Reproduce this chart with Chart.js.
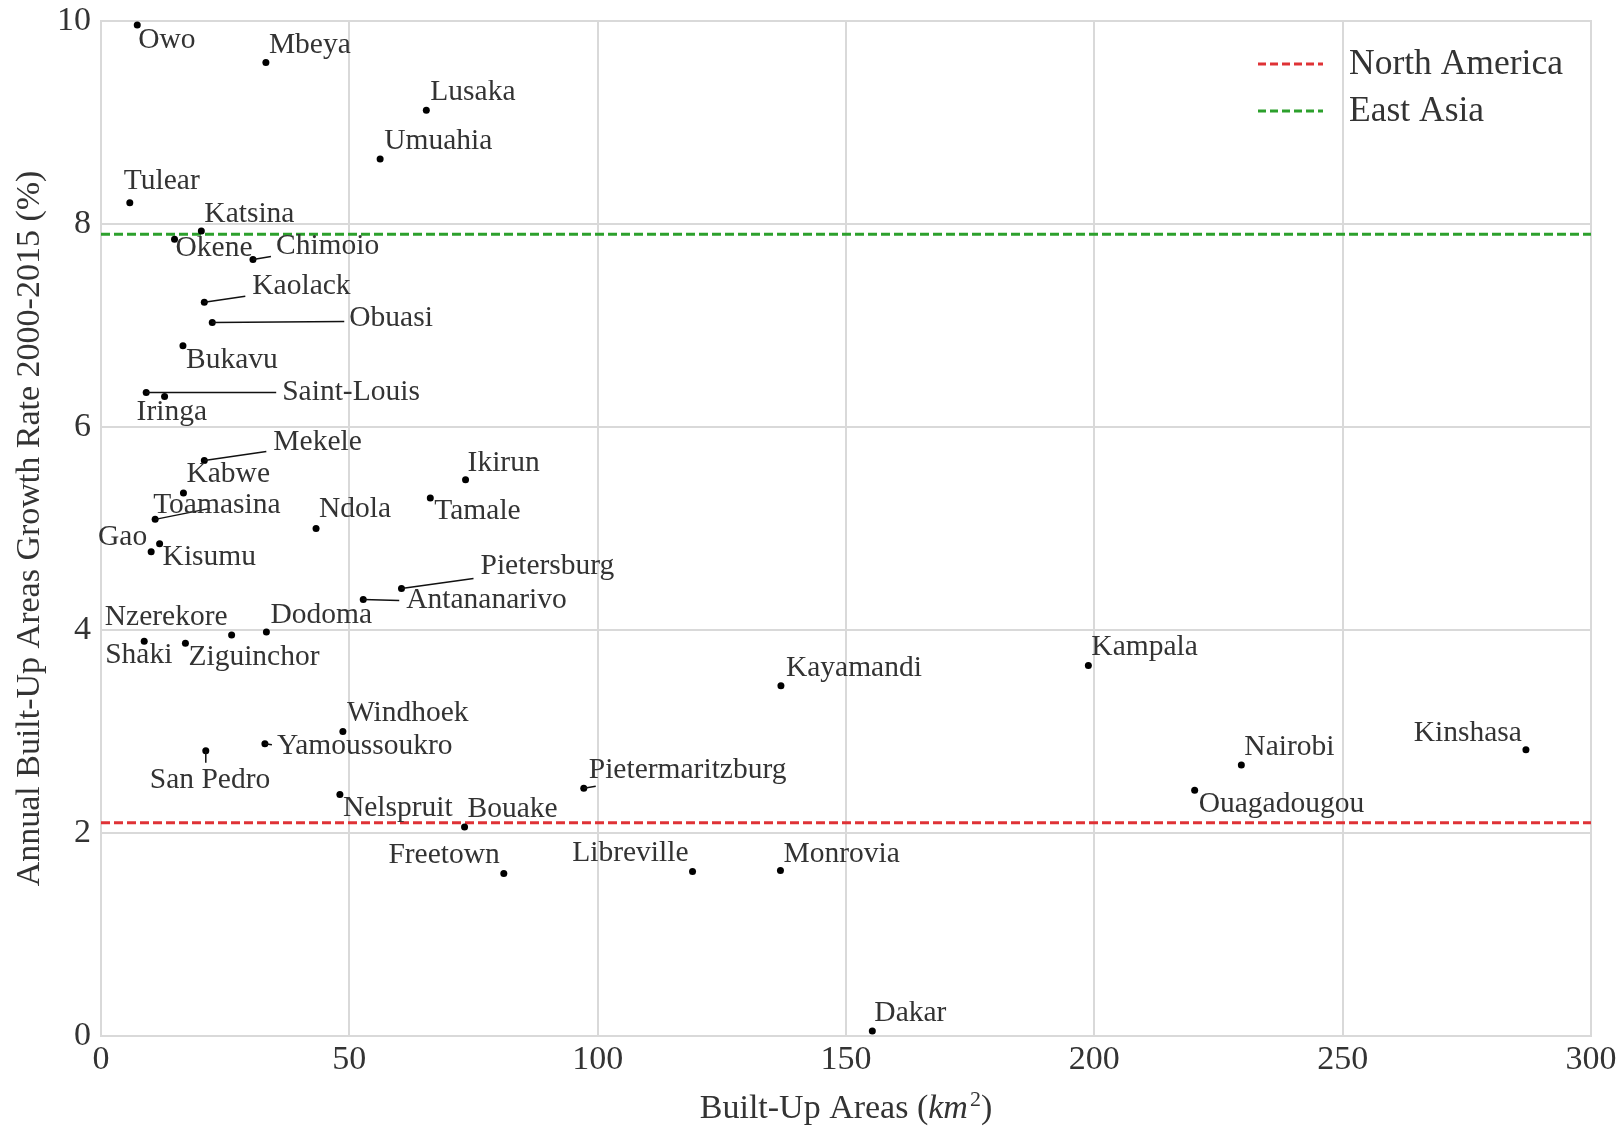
<!DOCTYPE html>
<html>
<head>
<meta charset="utf-8">
<title>Built-up areas vs growth rate</title>
<script src="https://cdn.jsdelivr.net/npm/chart.js@4.4.1/dist/chart.umd.min.js"></script>
<style>
  html, body { margin: 0; padding: 0; background: #fff; }
  #wrap { width: 1623px; height: 1126px; }
</style>
</head>
<body>
<div id="wrap"><canvas id="scatterChart"></canvas></div>
<script>
// Dados
const cities = ['Owo', 'Mbeya', 'Lusaka', 'Umuahia', 'Tulear', 'Katsina', 'Okene', 'Chimoio',
  'Kaolack', 'Obuasi', 'Bukavu', 'Saint-Louis', 'Iringa', 'Mekele', 'Kabwe', 'Toamasina',
  'Gao', 'Kisumu', 'Ndola', 'Ikirun', 'Tamale', 'Pietersburg', 'Antananarivo', 'Dodoma',
  'Nzerekore', 'Shaki', 'Ziguinchor', 'Windhoek', 'Yamoussoukro', 'San Pedro', 'Nelspruit',
  'Bouake', 'Freetown', 'Pietermaritzburg', 'Libreville', 'Monrovia', 'Kayamandi', 'Kampala',
  'Nairobi', 'Ouagadougou', 'Kinshasa', 'Dakar'];

const builtUpArea = [7.3, 33.2, 65.5, 56.2, 5.8, 20.2, 14.8, 30.6,
  20.8, 22.4, 16.5, 9.1, 12.8, 20.8, 16.6, 10.9,
  10.1, 11.8, 43.3, 73.4, 66.3, 60.5, 52.8, 33.3,
  26.3, 8.7, 17.0, 48.7, 33.0, 21.1, 48.1,
  73.2, 81.1, 97.2, 119.1, 136.8, 136.9, 198.8,
  229.6, 220.2, 286.9, 155.3];

const growthRate = [9.96, 9.59, 9.12, 8.64, 8.21, 7.93, 7.85, 7.65,
  7.23, 7.03, 6.80, 6.34, 6.30, 5.67, 5.35, 5.09,
  4.77, 4.85, 5.00, 5.48, 5.30, 4.41, 4.30, 3.98,
  3.95, 3.89, 3.87, 3.00, 2.88, 2.81, 2.38,
  2.06, 1.60, 2.44, 1.62, 1.63, 3.45, 3.65,
  2.67, 2.42, 2.82, 0.05];

const referenceNames = ['North America', 'East Asia'];
const referenceRates = [2.1, 7.9];
const referenceColors = ['#df3236', '#2ca02c'];

const xRange = [0, 300];
const yRange = [0, 10];

// Posição dos rótulos (px a partir do ponto): [dx, dy, alinhamento, fimLinhaX, fimLinhaY]
const labelPlacement = {
  'Owo': [1, 15, 'left'],
  'Mbeya': [3, -17, 'left'],
  'Lusaka': [4, -18, 'left'],
  'Umuahia': [4, -18, 'left'],
  'Tulear': [-6, -21, 'left'],
  'Katsina': [3, -17, 'left'],
  'Okene': [1, 9, 'left'],
  'Chimoio': [23, -13, 'left', 18, -3],
  'Kaolack': [48, -16, 'left', 41, -6],
  'Obuasi': [137, -4, 'left', 132, -1],
  'Bukavu': [3, 14, 'left'],
  'Saint-Louis': [136, 0, 'left', 130, 0],
  'Iringa': [-28, 16, 'left'],
  'Mekele': [69, -18, 'left', 62, -9],
  'Kabwe': [3, -19, 'left'],
  'Toamasina': [-2, -14, 'left', 55, -11],
  'Gao': [-4, -15, 'right'],
  'Kisumu': [3, 14, 'left'],
  'Ndola': [3, -19, 'left'],
  'Ikirun': [2, -17, 'left'],
  'Tamale': [4, 13, 'left'],
  'Pietersburg': [79, -22, 'left', 72, -10],
  'Antananarivo': [43, 1, 'left', 36, 1],
  'Dodoma': [4, -17, 'left'],
  'Nzerekore': [-4, -18, 'right'],
  'Shaki': [-39, 14, 'left'],
  'Ziguinchor': [3, 14, 'left'],
  'Windhoek': [4, -18, 'left'],
  'Yamoussoukro': [12, 3, 'left', 7, 1],
  'San Pedro': [-56, 29, 'left', 0, 12],
  'Nelspruit': [3, 14, 'left'],
  'Bouake': [3, -18, 'left'],
  'Freetown': [-4, -18, 'right'],
  'Pietermaritzburg': [5, -18, 'left', 12, -2],
  'Libreville': [-4, -18, 'right'],
  'Monrovia': [3, -16, 'left'],
  'Kayamandi': [5, -18, 'left'],
  'Kampala': [3, -18, 'left'],
  'Nairobi': [3, -18, 'left'],
  'Ouagadougou': [4, 14, 'left'],
  'Kinshasa': [-4, -17, 'right'],
  'Dakar': [2, -18, 'left']
};

const serif = "'Liberation Serif', 'DejaVu Serif', serif";
const textColor = '#333333';
const gridColor = '#d9d9d9';

// Rótulos das cidades com linhas de ligação
const cityLabels = {
  id: 'cityLabels',
  afterDatasetsDraw(chart) {
    const ctx = chart.ctx;
    const meta = chart.getDatasetMeta(0);
    ctx.save();
    ctx.font = '29.5px ' + serif;
    ctx.fillStyle = textColor;
    ctx.strokeStyle = '#111';
    ctx.lineWidth = 1.5;
    ctx.textBaseline = 'middle';
    meta.data.forEach((pt, i) => {
      const p = labelPlacement[cities[i]] || [3, -16, 'left'];
      if (p.length > 3) {
        ctx.beginPath();
        ctx.moveTo(pt.x, pt.y);
        ctx.lineTo(pt.x + p[3], pt.y + p[4]);
        ctx.stroke();
      }
      ctx.textAlign = p[2];
      ctx.fillText(cities[i], pt.x + p[0], pt.y + p[1]);
    });
    ctx.restore();
  }
};

// Moldura, legenda e título do eixo x (com km em itálico e expoente)
const frameAndLegend = {
  id: 'frameAndLegend',
  beforeDatasetsDraw(chart) {
    const {ctx, chartArea: a} = chart;
    ctx.save();
    ctx.strokeStyle = gridColor;
    ctx.lineWidth = 2;
    ctx.strokeRect(a.left, a.top, a.right - a.left, a.bottom - a.top);
    ctx.restore();
  },
  afterDraw(chart) {
    const {ctx, chartArea: a} = chart;
    ctx.save();
    ctx.font = '35.5px ' + serif;
    ctx.textBaseline = 'middle';
    ctx.textAlign = 'left';
    referenceNames.forEach((name, i) => {
      const y = a.top + 43 + i * 47;
      const x0 = a.right - 333;
      ctx.strokeStyle = referenceColors[i];
      ctx.lineWidth = 3;
      ctx.setLineDash([8, 4]);
      ctx.beginPath();
      ctx.moveTo(x0, y);
      ctx.lineTo(x0 + 65, y);
      ctx.stroke();
      ctx.setLineDash([]);
      ctx.fillStyle = textColor;
      ctx.fillText(name, x0 + 91, y + 1);
    });

    // título do eixo x
    const parts = [
      ['Built-Up Areas (', '34px ' + serif, 0],
      ['km', 'italic 34px ' + serif, 0],
      ['2', '22px ' + serif, -12],
      [')', '34px ' + serif, 0]
    ];
    let total = 0;
    parts.forEach(p => { ctx.font = p[1]; total += ctx.measureText(p[0]).width + (p[0] === '2' ? 2 : 0); });
    let x = (a.left + a.right) / 2 - total / 2;
    const y = chart.height - 18;
    ctx.fillStyle = textColor;
    ctx.textBaseline = 'alphabetic';
    parts.forEach(p => {
      ctx.font = p[1];
      if (p[0] === '2') x += 2;
      ctx.fillText(p[0], x, y + 10 + p[2]);
      x += ctx.measureText(p[0]).width;
    });
    ctx.restore();
  }
};

const points = builtUpArea.map((x, i) => ({x: x, y: growthRate[i]}));

const referenceSets = referenceNames.map((name, i) => ({
  type: 'line',
  label: name,
  data: [{x: xRange[0], y: referenceRates[i]}, {x: xRange[1], y: referenceRates[i]}],
  borderColor: referenceColors[i],
  borderWidth: 3,
  borderDash: [9, 4],
  pointRadius: 0,
  fill: false
}));

const scatterChart = new Chart(document.getElementById('scatterChart'), {
  type: 'scatter',
  data: {
    datasets: [{
      label: 'Cities',
      data: points,
      backgroundColor: '#000',
      borderWidth: 0,
      pointRadius: 3.5
    }, ...referenceSets]
  },
  options: {
    responsive: true,
    maintainAspectRatio: false,
    animation: false,
    layout: { padding: { top: 21, right: 32, left: 0, bottom: 0 } },
    plugins: {
      legend: { display: false },
      tooltip: { enabled: false }
    },
    scales: {
      x: {
        type: 'linear',
        min: xRange[0],
        max: xRange[1],
        ticks: {
          stepSize: 50,
          padding: 4,
          color: textColor,
          font: { family: serif, size: 34 }
        },
        grid: { color: gridColor, lineWidth: 2, drawTicks: false },
        border: { color: gridColor, width: 2 },
        title: { display: false },
        afterFit(scale) {
          scale.height = 90;
          scale.paddingLeft = 0;
          scale.paddingRight = 0;
        }
      },
      y: {
        type: 'linear',
        min: yRange[0],
        max: yRange[1],
        ticks: {
          stepSize: 2,
          padding: 10,
          color: textColor,
          font: { family: serif, size: 34 }
        },
        grid: { color: gridColor, lineWidth: 2, drawTicks: false },
        border: { color: gridColor, width: 2 },
        title: {
          display: true,
          text: 'Annual Built-Up Areas Growth Rate 2000-2015 (%)',
          color: textColor,
          font: { family: serif, size: 34 },
          padding: { top: 10, bottom: 0 }
        },
        afterFit(scale) {
          scale.width = 101;
          scale.paddingTop = 0;
          scale.paddingBottom = 0;
        }
      }
    }
  },
  plugins: [frameAndLegend, cityLabels]
});
</script>
</body>
</html>
